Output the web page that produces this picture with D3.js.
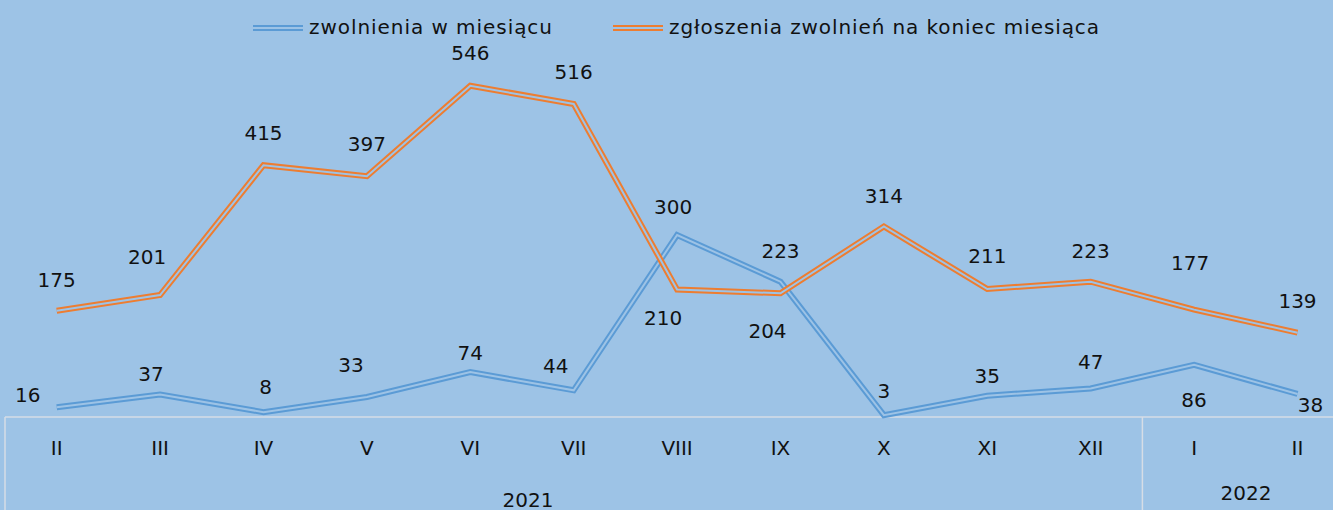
<!DOCTYPE html>
<html>
<head>
<meta charset="utf-8">
<script src="https://cdn.jsdelivr.net/npm/d3@7"></script>
<style>
  body { margin: 0; background: #9dc3e6; overflow: hidden; }
  text { font-family: "DejaVu Sans", "Noto Sans", sans-serif; fill: #111; }
</style>
</head>
<body>
<script>
// dane
const months = ["II", "III", "IV", "V", "VI", "VII", "VIII", "IX", "X", "XI", "XII", "I", "II"]
const years = ["2021", "2022"]
const yearSpan = [11, 2] // ile miesięcy w danym roku
const zwolnienia = [16, 37, 8, 33, 74, 44, 300, 223, 3, 35, 47, 86, 38]
const zgloszenia = [175, 201, 415, 397, 546, 516, 210, 204, 314, 211, 223, 177, 139]
const seriesNames = ["zwolnienia w miesiącu", "zgłoszenia zwolnień na koniec miesiąca"]

// przesunięcia etykiet (ręcznie ułożone jak w oryginale)
const zwolnieniaDx = [-29, -9, 2, -16, 0, -18, -4, 0, 0, 0, 0, 0, 13]
const zwolnieniaDy = [-5, -14, -18, -25, -12, -17, -21, -24, -17, -13, -19, 42, 18]
const zgloszeniaDx = [0, -13, 0, 0, 0, 0, -14, -13, 0, 0, 0, -4, 0]
const zgloszeniaDy = [-24, -31, -25, -25, -26, -25, 35, 45, -24, -26, -24, -40, -25]

const width = 1333
const height = 510
const bg = "#9dc3e6"
const left = 5
const band = 103.4
const axisY = 417

var svg = d3.select("body").append("svg")
    .attr("width", width)
    .attr("height", height)

svg.append("rect").attr("width", width).attr("height", height).attr("fill", bg)

var x = d3.scaleBand()
    .domain(d3.range(months.length))
    .range([left, left + band * months.length])

var y = d3.scaleLinear()
    .domain([0, 600])
    .range([417, 53])

var cx = (i) => x(i) + x.bandwidth() / 2

//Oś kategorii
var grid = svg.append("g").attr("stroke", "#d6dde6").attr("stroke-width", 1.5)
grid.append("line").attr("x1", left).attr("x2", width).attr("y1", axisY).attr("y2", axisY)
grid.append("line").attr("x1", left).attr("x2", left).attr("y1", axisY).attr("y2", height)
let acc = 0
yearSpan.forEach((n) => {
    acc += n
    let xx = x(acc - 1) + x.bandwidth()
    grid.append("line").attr("x1", xx).attr("x2", xx).attr("y1", axisY).attr("y2", height)
})

svg.append("g").selectAll("text")
    .data(months)
    .enter()
    .append("text")
        .attr("x", (d, i) => cx(i))
        .attr("y", 455)
        .attr("text-anchor", "middle")
        .style("font-size", "20px")
        .text((d) => d)

const yearX = [528, 1246]
const yearY = [507, 500]
svg.append("g").selectAll("text")
    .data(years)
    .enter()
    .append("text")
        .attr("x", (d, i) => yearX[i])
        .attr("y", (d, i) => yearY[i])
        .attr("text-anchor", "middle")
        .style("font-size", "20px")
        .text((d) => d)

//Linie
var line = d3.line()
    .x((d, i) => cx(i))
    .y((d) => y(d))

function drawSeries(values, color) {
    svg.append("path").datum(values)
        .attr("d", line).attr("fill", "none")
        .attr("stroke", color).attr("stroke-width", 6).attr("stroke-linejoin", "miter")
    svg.append("path").datum(values)
        .attr("d", line).attr("fill", "none")
        .attr("stroke", bg).attr("stroke-width", 2).attr("stroke-linejoin", "miter")
}
drawSeries(zwolnienia, "#5b9bd5")
drawSeries(zgloszenia, "#ed7d31")

//Etykiety
function drawLabels(values, dx, dy) {
    svg.append("g").selectAll("text")
        .data(values)
        .enter()
        .append("text")
            .attr("x", (d, i) => cx(i) + dx[i])
            .attr("y", (d, i) => y(d) + dy[i])
            .attr("text-anchor", "middle")
            .style("font-size", "20px")
            .text((d) => d)
}
drawLabels(zwolnienia, zwolnieniaDx, zwolnieniaDy)
drawLabels(zgloszenia, zgloszeniaDx, zgloszeniaDy)

//Legenda
const legendX = [253, 613]
const legendLen = [243, 430]
const legendColors = ["#5b9bd5", "#ed7d31"]
seriesNames.forEach((name, i) => {
    let g = svg.append("g").attr("transform", "translate(" + legendX[i] + ",28)")
    g.append("line").attr("x1", 0).attr("x2", 50).attr("stroke", legendColors[i]).attr("stroke-width", 6)
    g.append("line").attr("x1", 0).attr("x2", 50).attr("stroke", bg).attr("stroke-width", 2)
    g.append("text").attr("x", 56).attr("y", 6)
        .attr("textLength", legendLen[i]).attr("lengthAdjust", "spacing")
        .style("font-size", "20px").text(name)
})
</script>
</body>
</html>
